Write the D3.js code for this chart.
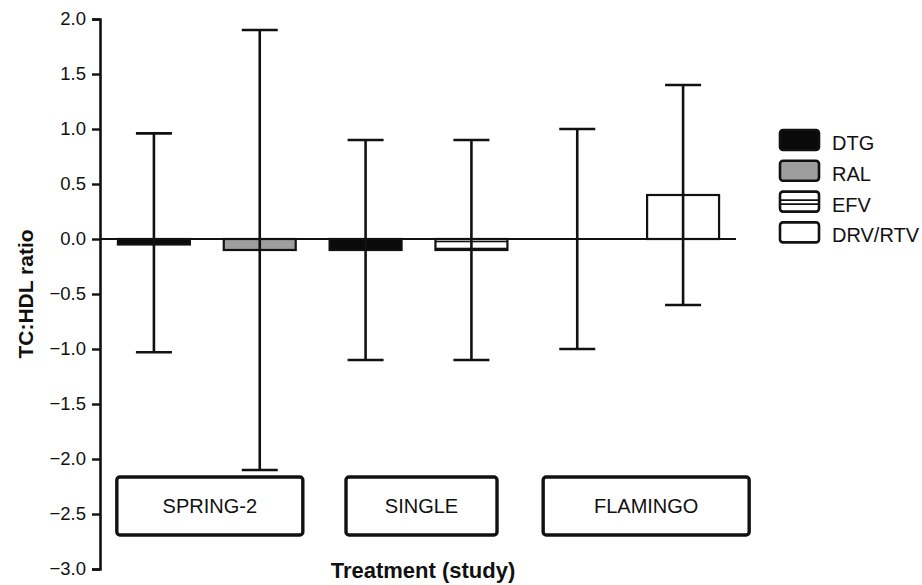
<!DOCTYPE html>
<html>
<head>
<meta charset="utf-8">
<script src="https://cdn.jsdelivr.net/npm/d3@7"></script>
<style>
  body { margin: 0; background: #fff; }
  text { font-family: "Liberation Sans", Arial, Helvetica, sans-serif; fill: #111; }
</style>
</head>
<body>
<svg id="svg" width="922" height="585"></svg>
<script>
// data
const studies = ["SPRING-2", "SINGLE", "FLAMINGO"];
const drugs = ["DTG", "RAL", "EFV", "DRV/RTV"];
const barStudy = ["SPRING-2", "SPRING-2", "SINGLE", "SINGLE", "FLAMINGO", "FLAMINGO"];
const barDrug = ["DTG", "RAL", "DTG", "EFV", "DTG", "DRV/RTV"];
const barValue = [-0.05, -0.1, -0.1, -0.1, 0.0, 0.4];
const errLow = [-1.03, -2.1, -1.1, -1.1, -1.0, -0.6];
const errHigh = [0.96, 1.9, 0.9, 0.9, 1.0, 1.4];
const yTicks = [2.0, 1.5, 1.0, 0.5, 0.0, -0.5, -1.0, -1.5, -2.0, -2.5, -3.0];

const bars = barValue.map((v, i) => ({
  key: barStudy[i] + "|" + barDrug[i],
  study: barStudy[i], drug: barDrug[i],
  value: v, lo: errLow[i], hi: errHigh[i]
}));

const svg = d3.select("#svg");
const margin = {top: 19, left: 101, right: 186, bottom: 16};
const width = +svg.attr("width");
const height = +svg.attr("height");

const x = d3.scaleBand()
  .domain(bars.map(d => d.key))
  .range([margin.left, width - margin.right])
  .paddingInner(0.32)
  .paddingOuter(0.16);

const y = d3.scaleLinear()
  .domain([-3, 2])
  .range([height - margin.bottom, margin.top]);

// fills per drug
const defs = svg.append("defs");
const pat = defs.append("pattern")
  .attr("id", "hstripe")
  .attr("patternUnits", "userSpaceOnUse")
  .attr("width", 8).attr("height", 7);
pat.append("rect").attr("width", 8).attr("height", 7).attr("fill", "#fff");
pat.append("line").attr("x1", 0).attr("x2", 8).attr("y1", 3.5).attr("y2", 3.5)
  .attr("stroke", "#111").attr("stroke-width", 1.6);

const fill = d3.scaleOrdinal()
  .domain(drugs)
  .range(["#0a0a0a", "#9e9e9e", "url(#hstripe)", "#fff"]);

// y axis
const yAxis = g => g
  .attr("transform", `translate(${margin.left - 1},0)`)
  .call(d3.axisLeft(y).tickValues(yTicks).tickFormat(d3.format(".1f")).tickSize(8).tickPadding(6))
  .call(g => g.select(".domain").attr("stroke", "#111").attr("stroke-width", 2.6))
  .call(g => g.selectAll(".tick line").attr("stroke", "#111").attr("stroke-width", 2.4))
  .call(g => g.selectAll(".tick text")
    .style("font-family", "'Liberation Sans', Arial, sans-serif")
    .attr("font-size", 18.5).attr("fill", "#111"));

svg.append("g").call(yAxis);

// bars
svg.selectAll(".bar")
  .data(bars)
  .enter()
  .append("rect")
  .attr("class", "bar")
  .attr("x", d => x(d.key))
  .attr("width", x.bandwidth())
  .attr("y", d => y(Math.max(0, d.value)))
  .attr("height", d => Math.abs(y(d.value) - y(0)))
  .attr("fill", d => fill(d.drug))
  .attr("stroke", "#111")
  .attr("stroke-width", d => d.value === 0 ? 0 : 2.2);

// zero line
svg.append("line")
  .attr("x1", margin.left)
  .attr("x2", width - margin.right)
  .attr("y1", y(0)).attr("y2", y(0))
  .attr("stroke", "#111")
  .attr("stroke-width", 2);

// error bars
const capW = 36;
const err = svg.selectAll(".err")
  .data(bars)
  .enter()
  .append("g")
  .attr("class", "err")
  .attr("stroke", "#111")
  .attr("stroke-width", 2.6);

err.append("line")
  .attr("x1", d => x(d.key) + x.bandwidth() / 2)
  .attr("x2", d => x(d.key) + x.bandwidth() / 2)
  .attr("y1", d => y(d.hi))
  .attr("y2", d => y(d.lo));
err.append("line")
  .attr("x1", d => x(d.key) + x.bandwidth() / 2 - capW / 2)
  .attr("x2", d => x(d.key) + x.bandwidth() / 2 + capW / 2)
  .attr("y1", d => y(d.hi)).attr("y2", d => y(d.hi));
err.append("line")
  .attr("x1", d => x(d.key) + x.bandwidth() / 2 - capW / 2)
  .attr("x2", d => x(d.key) + x.bandwidth() / 2 + capW / 2)
  .attr("y1", d => y(d.lo)).attr("y2", d => y(d.lo));

// study boxes under the bars (hand drawn in the original, so a little uneven)
const boxLayout = {"SPRING-2": {dx: 3, w: 186}, "SINGLE": {dx: 3, w: 151}, "FLAMINGO": {dx: 16, w: 206}};
const boxTop = 477, boxH = 58;
const groupCenter = s => {
  const ks = bars.filter(d => d.study === s);
  const a = x(ks[0].key), b = x(ks[ks.length - 1].key) + x.bandwidth();
  return (a + b) / 2;
};
const box = svg.selectAll(".study")
  .data(studies)
  .enter()
  .append("g")
  .attr("class", "study")
  .attr("transform", s => `translate(${groupCenter(s) + boxLayout[s].dx},${boxTop})`);
box.append("rect")
  .attr("x", s => -boxLayout[s].w / 2)
  .attr("width", s => boxLayout[s].w)
  .attr("height", boxH)
  .attr("rx", 3)
  .attr("fill", "#fff")
  .attr("stroke", "#111")
  .attr("stroke-width", 3.4);
box.append("text")
  .attr("y", boxH / 2)
  .attr("dy", "0.36em")
  .attr("text-anchor", "middle")
  .attr("font-size", 20)
  .text(s => s);

// axis titles
svg.append("text")
  .attr("transform", `translate(33,${(y(2) + y(-3)) / 2}) rotate(-90)`)
  .attr("text-anchor", "middle")
  .attr("font-size", 21)
  .attr("font-weight", "bold")
  .text("TC:HDL ratio");

svg.append("text")
  .attr("x", 423)
  .attr("y", 578)
  .attr("text-anchor", "middle")
  .attr("font-size", 22)
  .attr("font-weight", "bold")
  .text("Treatment (study)");

// legend
const legend = svg.append("g")
  .attr("transform", "translate(780,130)");
const item = legend.selectAll(".item")
  .data(drugs)
  .enter()
  .append("g")
  .attr("class", "item")
  .attr("transform", (d, i) => `translate(0,${i * 30.8})`);
item.append("rect")
  .attr("width", 39)
  .attr("height", 20)
  .attr("rx", 3)
  .attr("fill", d => d === "EFV" ? "#fff" : fill(d))
  .attr("stroke", "#111")
  .attr("stroke-width", 2.6);
item.filter(d => d === "EFV").selectAll(".stripe")
  .data([8.5, 12.5])
  .enter()
  .append("line")
  .attr("x1", 0).attr("x2", 39)
  .attr("y1", d => d).attr("y2", d => d)
  .attr("stroke", "#111")
  .attr("stroke-width", 1.6);
item.append("text")
  .attr("x", 52)
  .attr("y", 20)
  .attr("font-size", 20)
  .text(d => d);
</script>
</body>
</html>
